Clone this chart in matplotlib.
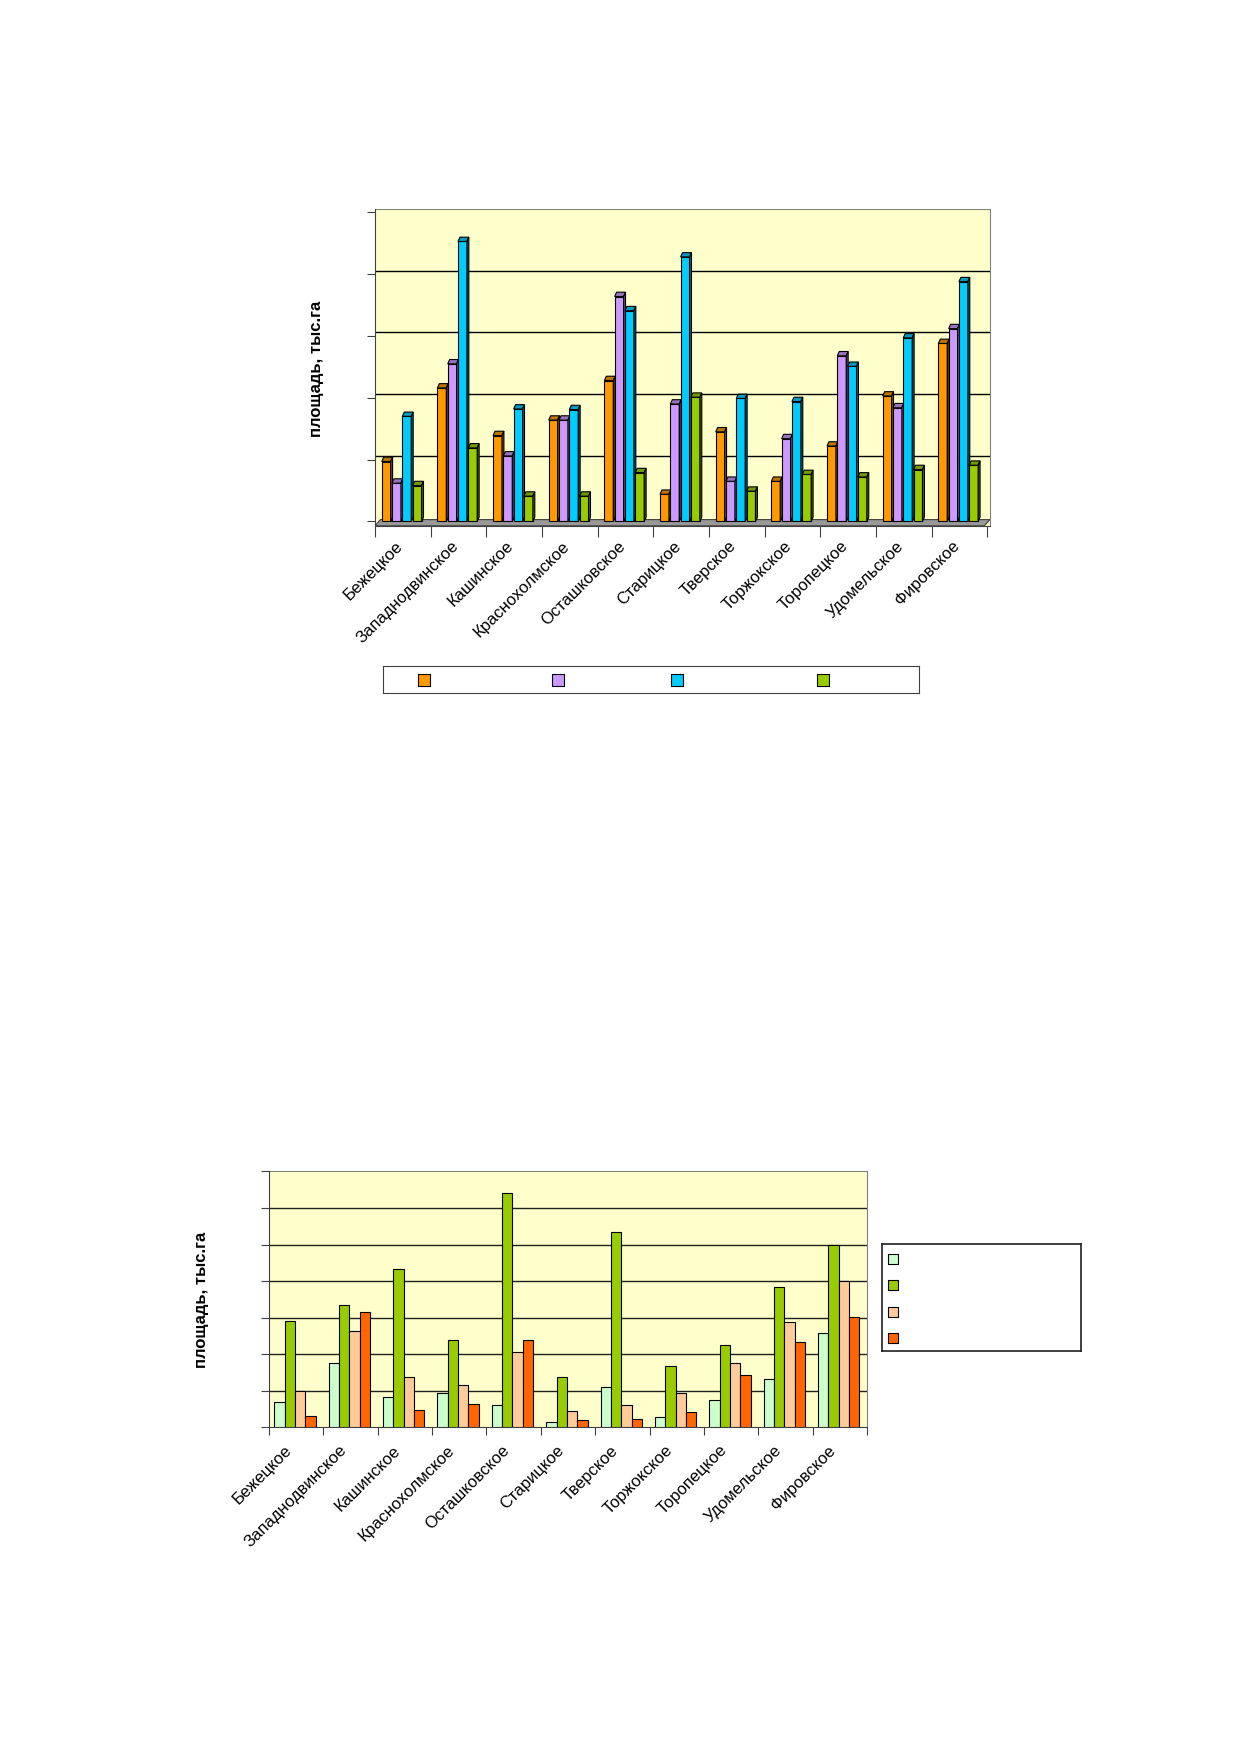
import numpy as np
import matplotlib
matplotlib.use('Agg')
import matplotlib.pyplot as plt
import matplotlib.transforms as mtransforms
from matplotlib.patches import Polygon
from matplotlib import colors as mcolors

plt.rcParams['font.family'] = ['Liberation Sans', 'DejaVu Sans']

# districts (same on both charts)
districts = ['Бежецкое', 'Западнодвинское', 'Кашинское', 'Краснохолмское', 'Осташковское',
             'Старицкое', 'Тверское', 'Торжокское', 'Торопецкое', 'Удомельское', 'Фировское']

# top chart, four series (relative units, axis has no numbers)
top_s1 = [0.97, 2.16, 1.39, 1.64, 2.28, 0.44, 1.45, 0.65, 1.22, 2.03, 2.88]
top_s2 = [0.62, 2.55, 1.06, 1.64, 3.64, 1.90, 0.65, 1.34, 2.68, 1.84, 3.12]
top_s3 = [1.70, 4.53, 1.82, 1.81, 3.41, 4.28, 1.99, 1.94, 2.51, 2.97, 3.88]
top_s4 = [0.58, 1.19, 0.41, 0.41, 0.79, 2.01, 0.49, 0.76, 0.72, 0.84, 0.91]
top_colors = ['#FF9900', '#CC99FF', '#00CCFF', '#99CC00']

# bottom chart, four series
bot_s1 = [0.68, 1.77, 0.82, 0.95, 0.62, 0.15, 1.09, 0.27, 0.75, 1.32, 2.57]
bot_s2 = [2.91, 3.34, 4.32, 2.39, 6.41, 1.38, 5.34, 1.68, 2.25, 3.84, 4.98]
bot_s3 = [1.00, 2.64, 1.38, 1.16, 2.07, 0.44, 0.62, 0.93, 1.77, 2.88, 4.00]
bot_s4 = [0.30, 3.15, 0.48, 0.65, 2.39, 0.20, 0.23, 0.41, 1.43, 2.34, 3.03]
bot_colors = ['#CCFFCC', '#99CC00', '#FFCC99', '#FF6600']

ylabel = 'площадь, тыс.га'
wall = '#FFFFCC'

fig = plt.figure(figsize=(12.39, 17.52), dpi=100)
x = np.arange(len(districts))


def shade(c, f):
    r, g, b = mcolors.to_rgb(c)
    return (r * f, g * f, b * f)


def bar3d(ax, xs, vals, w, color, dx, dy):
    # front face + top + right side, in data coords
    ax.bar(xs, vals, w, color=color, edgecolor='black', linewidth=0.8, zorder=3)
    for xc, v in zip(xs, vals):
        l, r = xc - w / 2, xc + w / 2
        top = Polygon([(l, v), (r, v), (r + dx, v + dy), (l + dx, v + dy)],
                      closed=True, facecolor=shade(color, 0.75), edgecolor='black', linewidth=0.8, zorder=3)
        side = Polygon([(r, 0), (r + dx, dy), (r + dx, v + dy), (r, v)],
                       closed=True, facecolor=shade(color, 0.5), edgecolor='black', linewidth=0.8, zorder=3)
        ax.add_patch(top)
        ax.add_patch(side)


def shift_labels(ax, px):
    off = mtransforms.ScaledTranslation(-px / 100, 0, fig.dpi_scale_trans)
    for lab in ax.get_xticklabels(minor=True):
        lab.set_transform(lab.get_transform() + off)


# ---------------- top chart (3D look) ----------------
ax1 = fig.add_axes([0.3026, 0.6999, 0.4964, 0.1806])
ax1.set_facecolor(wall)
ax1.set_xlim(-0.5, 10.55)
ax1.set_ylim(-0.07, 5.05)
for g in [1, 2, 3, 4]:
    ax1.axhline(g + 0.06, color='black', linewidth=1, zorder=1)
ax1.axhline(5.05, color='#808080', linewidth=1.5, zorder=1)

# floor
floor = Polygon([(-0.5, -0.07), (10.45, -0.07), (10.55, 0.03), (-0.4, 0.03)],
                closed=True, facecolor='#999999', edgecolor='#404040', linewidth=0.8, zorder=2)
ax1.add_patch(floor)

bw = 0.16
step = 0.185
dx, dy = 0.035, 0.07
for i, (vals, c) in enumerate(zip([top_s1, top_s2, top_s3, top_s4], top_colors)):
    bar3d(ax1, x + (i - 1.5) * step - 0.02, vals, bw, c, dx, dy)

ax1.set_yticks([0, 1, 2, 3, 4, 5])
ax1.set_yticklabels([])
ax1.tick_params(axis='y', direction='out', length=6, color='#404040')
ax1.set_xticks(np.arange(-0.5, 11, 1))
ax1.set_xticklabels([])
ax1.tick_params(axis='x', which='major', direction='out', length=8, color='#404040')
ax1.set_xticks(x, minor=True)
ax1.set_xticklabels(districts, minor=True, rotation=45, ha='right', rotation_mode='anchor', fontsize=12)
ax1.tick_params(axis='x', which='minor', length=0, pad=9)
shift_labels(ax1, 8)
ax1.spines['top'].set_visible(False)
ax1.spines['right'].set_color('#808080')
ax1.spines['left'].set_color('#404040')
ax1.spines['bottom'].set_color('#404040')
fig.text(0.2554, 0.7894, ylabel, rotation=90, ha='center', va='center', fontsize=12, fontweight='bold')

# legend box (labels are empty in the original)
lax1 = fig.add_axes([0.309, 0.6042, 0.4325, 0.0154])
lax1.set_xlim(0, 1)
lax1.set_ylim(0, 1)
lax1.set_xticks([])
lax1.set_yticks([])
for sp in lax1.spines.values():
    sp.set_color('#404040')
for xp, c in zip([0.076, 0.327, 0.548, 0.822], top_colors):
    lax1.scatter([xp], [0.5], marker='s', s=70, color=c, edgecolor='black', linewidth=0.8)

# ---------------- bottom chart ----------------
ax2 = fig.add_axes([0.2170, 0.1853, 0.4828, 0.1461])
ax2.set_facecolor(wall)
ax2.set_xlim(-0.5, 10.5)
ax2.set_ylim(0, 7)
for g in range(1, 7):
    ax2.axhline(g, color='#202020', linewidth=1, zorder=1)
ax2.axhline(7, color='#606060', linewidth=1.2, zorder=1)

bw2 = 0.19
for i, (vals, c) in enumerate(zip([bot_s1, bot_s2, bot_s3, bot_s4], bot_colors)):
    ax2.bar(x + (i - 1.5) * bw2 - 0.02, vals, bw2, color=c, edgecolor='black', linewidth=0.8, zorder=3)

ax2.set_yticks(range(0, 8))
ax2.set_yticklabels([])
ax2.tick_params(axis='y', direction='out', length=6, color='#404040')
ax2.set_xticks(np.arange(-0.5, 11, 1))
ax2.set_xticklabels([])
ax2.tick_params(axis='x', which='major', direction='out', length=6, color='#404040')
ax2.set_xticks(x, minor=True)
ax2.set_xticklabels(districts, minor=True, rotation=45, ha='right', rotation_mode='anchor', fontsize=12)
ax2.tick_params(axis='x', which='minor', length=0, pad=11)
shift_labels(ax2, 12)
ax2.spines['top'].set_visible(False)
ax2.spines['right'].set_color('#808080')
ax2.spines['left'].set_color('#404040')
ax2.spines['bottom'].set_color('#404040')
fig.text(0.1623, 0.2583, ylabel, rotation=90, ha='center', va='center', fontsize=12, fontweight='bold')

lax2 = fig.add_axes([0.7118, 0.2288, 0.1609, 0.0611])
lax2.set_xlim(0, 1)
lax2.set_ylim(0, 1)
lax2.set_xticks([])
lax2.set_yticks([])
for sp in lax2.spines.values():
    sp.set_color('#202020')
    sp.set_linewidth(1.2)
for yp, c in zip([0.86, 0.62, 0.37, 0.12], bot_colors):
    lax2.scatter([0.055], [yp], marker='s', s=60, color=c, edgecolor='black', linewidth=0.8)

fig.savefig('out.png', dpi=100)
